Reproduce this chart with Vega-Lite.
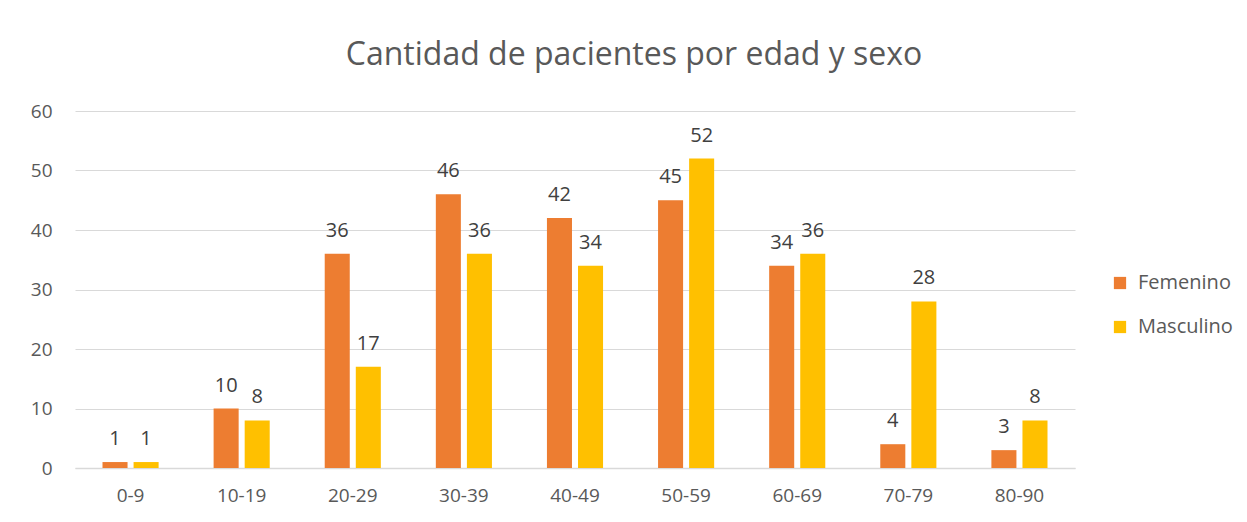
{
  "$schema": "https://vega.github.io/schema/vega-lite/v6.json",
  "width": 1000,
  "height": 357,
  "autosize": {"type": "none"},
  "padding": {"left": 75, "top": 111, "right": 172, "bottom": 54},
  "background": "white",
  "title": {
    "text": "Cantidad de pacientes por edad y sexo",
    "font": "Open Sans",
    "fontSize": 32,
    "fontWeight": "normal",
    "color": "#595959",
    "anchor": "middle",
    "offset": 30,
    "dx": 59
  },
  "data": {
    "values": [
      {"edad": "0-9", "sexo": "Femenino", "n": 1},
      {"edad": "0-9", "sexo": "Masculino", "n": 1},
      {"edad": "10-19", "sexo": "Femenino", "n": 10},
      {"edad": "10-19", "sexo": "Masculino", "n": 8},
      {"edad": "20-29", "sexo": "Femenino", "n": 36},
      {"edad": "20-29", "sexo": "Masculino", "n": 17},
      {"edad": "30-39", "sexo": "Femenino", "n": 46},
      {"edad": "30-39", "sexo": "Masculino", "n": 36},
      {"edad": "40-49", "sexo": "Femenino", "n": 42},
      {"edad": "40-49", "sexo": "Masculino", "n": 34},
      {"edad": "50-59", "sexo": "Femenino", "n": 45},
      {"edad": "50-59", "sexo": "Masculino", "n": 52},
      {"edad": "60-69", "sexo": "Femenino", "n": 34},
      {"edad": "60-69", "sexo": "Masculino", "n": 36},
      {"edad": "70-79", "sexo": "Femenino", "n": 4},
      {"edad": "70-79", "sexo": "Masculino", "n": 28},
      {"edad": "80-90", "sexo": "Femenino", "n": 3},
      {"edad": "80-90", "sexo": "Masculino", "n": 8}
    ]
  },
  "encoding": {
    "x": {
      "field": "edad",
      "type": "nominal",
      "sort": null,
      "scale": {"paddingInner": 0.495, "paddingOuter": 0.2475},
      "axis": {
        "title": null,
        "labelAngle": 0,
        "labelFont": "Open Sans",
        "labelFontSize": 19,
        "labelColor": "#595959",
        "labelPadding": 18,
        "ticks": false,
        "domainColor": "#d9d9d9",
        "domainWidth": 1.5
      }
    },
    "xOffset": {
      "field": "sexo",
      "type": "nominal",
      "scale": {"paddingInner": 0.194, "paddingOuter": 0}
    },
    "y": {
      "field": "n",
      "type": "quantitative",
      "scale": {"domain": [0, 60]},
      "axis": {
        "title": null,
        "values": [0, 10, 20, 30, 40, 50, 60],
        "labelFont": "Open Sans",
        "labelFontSize": 19,
        "labelColor": "#595959",
        "labelPadding": 23,
        "ticks": false,
        "domain": false,
        "gridColor": "#d9d9d9",
        "gridWidth": 1.2
      }
    }
  },
  "layer": [
    {
      "mark": {"type": "bar"},
      "encoding": {
        "color": {
          "field": "sexo",
          "type": "nominal",
          "scale": {"domain": ["Femenino", "Masculino"], "range": ["#ED7D31", "#FFC000"]},
          "legend": {
            "title": null,
            "orient": "none",
            "legendX": 1035,
            "legendY": 162,
            "symbolType": "square",
            "symbolSize": 150,
            "symbolStrokeWidth": 0,
            "labelFont": "Open Sans",
            "labelFontSize": 20,
            "labelColor": "#595959",
            "labelOffset": 8,
            "rowPadding": 24
          }
        }
      }
    },
    {
      "mark": {
        "type": "text",
        "baseline": "bottom",
        "dy": -13,
        "font": "Open Sans",
        "fontSize": 20,
        "color": "#404040"
      },
      "encoding": {
        "text": {"field": "n", "type": "quantitative"}
      }
    }
  ],
  "config": {"view": {"stroke": null}}
}
